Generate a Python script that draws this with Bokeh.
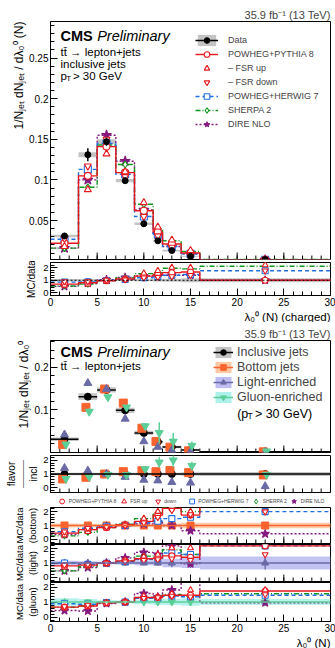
import numpy as np
from bokeh.plotting import figure
from bokeh.layouts import column
from bokeh.models import (Range1d, FixedTicker, NumeralTickFormatter, Legend, LegendItem,
                          Label, Span, Title)
from bokeh.embed import file_html
from bokeh.resources import INLINE

FONT = "Liberation Sans"

# ---------------- data ----------------
edges = [0, 3, 5, 7, 9, 11, 12, 14, 16, 30]
centers = [1.5, 4, 6, 8, 10, 11.5, 13, 15, 23]
xticks = [0, 5, 10, 15, 20, 25, 30]
xminor = list(range(31))

# upper plot: inclusive jets, charged multiplicity
data_incl = [0.031, 0.131, 0.147, 0.099, 0.046, 0.025, 0.013, 0.006, 0.002]
data_incl_err = [0.003, 0.008, 0.005, 0.004, 0.003, 0.002, 0.0015, 0.001, 0.0005]
data_incl_syst = [0.0015, 0.003, 0.003, 0.002, 0.0015, 0.001, 0.001, 0.0006, 0.0003]
pythia = [0.022, 0.105, 0.141, 0.109, 0.062, 0.036, 0.021, 0.010, 0.0015]
fsr_up = [0.018, 0.088, 0.132, 0.110, 0.072, 0.042, 0.026, 0.013, 0.002]
fsr_down = [0.028, 0.117, 0.150, 0.104, 0.055, 0.031, 0.017, 0.008, 0.0015]
herwig = [0.027, 0.113, 0.145, 0.107, 0.055, 0.033, 0.018, 0.009, 0.0015]
sherpa = [0.016, 0.091, 0.143, 0.119, 0.070, 0.040, 0.025, 0.012, 0.002]
dire = [0.016, 0.100, 0.155, 0.123, 0.063, 0.033, 0.018, 0.009, 0.0015]

# MC/data, inclusive
r_data_err = [0.10, 0.08, 0.06, 0.06, 0.08, 0.10, 0.12, 0.15, 0.15]
r_pythia = [0.70, 0.80, 0.96, 1.10, 1.33, 1.45, 1.60, 1.65, 1.00]
r_fsr_up = [0.60, 0.68, 0.92, 1.10, 1.55, 1.75, 2.00, 2.00, 2.20]
r_fsr_down = [0.90, 0.90, 1.02, 1.05, 1.20, 1.25, 1.30, 1.40, 1.75]
r_herwig = [0.85, 0.87, 0.98, 1.07, 1.20, 1.30, 1.40, 1.45, 1.75]
r_sherpa = [0.55, 0.70, 0.97, 1.20, 1.52, 1.60, 1.95, 1.90, 2.10]
r_dire = [0.52, 0.77, 1.05, 1.22, 1.35, 1.30, 1.40, 1.40, 1.00]

# lower plot: flavour-separated distributions
bottom = [0.019, 0.106, 0.149, 0.116, 0.057, 0.026, 0.0125, 0.004, 0.0015]
bottom_err = [0.002, 0.006, 0.004, 0.004, 0.003, 0.003, 0.002, 0.002, 0.001]
light = [0.042, 0.163, 0.149, 0.079, 0.026, 0.013, 0.005, 0.002, 0.0005]
light_err = [0.003, 0.006, 0.004, 0.005, 0.004, 0.004, 0.006, 0.003, 0.001]
gluon = [0.019, 0.096, 0.130, 0.106, 0.062, 0.046, 0.026, 0.016, 0.003]
gluon_err = [0.003, 0.008, 0.006, 0.005, 0.007, 0.025, 0.020, 0.010, 0.002]
incl_box = [0.004, 0.008, 0.006, 0.006, 0.005, 0.004, 0.003, 0.002, 0.001]

# flavour / inclusive
fr_incl_err = [0.10, 0.10, 0.10, 0.10, 0.10, 0.10, 0.10, 0.12, 0.15]
fr_bottom = [0.64, 0.76, 1.00, 1.17, 1.24, 1.17, 1.25, 1.10, 0.93]
fr_bottom_err = [0.05, 0.05, 0.04, 0.05, 0.08, 0.10, 0.10, 0.12, 0.10]
fr_light = [1.43, 1.24, 1.00, 0.78, 0.57, 0.52, 0.40, 0.36, 0.10]
fr_light_err = [0.08, 0.06, 0.04, 0.06, 0.08, 0.10, 0.10, 0.10, 0.08]
fr_gluon = [0.65, 0.80, 0.95, 0.93, 1.36, 1.85, 2.00, 1.60, 0.95]
fr_gluon_err = [0.06, 0.06, 0.05, 0.06, 0.12, 0.40, 0.50, 0.30, 0.10]

# MC/data for bottom jets
mb_err = [0.15, 0.12, 0.10, 0.10, 0.12, 0.15, 0.15, 0.20, 0.20]
mb_pythia = [0.45, 0.70, 0.85, 1.05, 1.30, 1.75, 2.25, 1.75, 2.60]
mb_fsr_up = [0.30, 0.55, 0.80, 1.05, 1.50, 2.00, 2.50, 2.00, 2.60]
mb_fsr_down = [0.55, 0.80, 0.90, 1.00, 1.20, 1.60, 2.10, 1.80, 2.00]
mb_herwig = [0.55, 0.80, 0.95, 1.00, 1.20, 1.30, 1.50, 1.60, 2.00]
mb_sherpa = [0.25, 0.50, 0.85, 1.10, 1.50, 1.90, 2.30, 2.00, 2.60]
mb_dire = [0.35, 0.70, 0.93, 1.00, 1.12, 1.24, 1.00, 0.62, 0.40]

# MC/data for light-enriched jets
ml_err = [0.15, 0.12, 0.08, 0.10, 0.15, 0.20, 0.30, 0.35, 0.45]
ml_pythia = [0.80, 0.85, 0.98, 1.15, 1.30, 1.35, 1.50, 1.40, 2.20]
ml_fsr_up = [0.70, 0.80, 0.95, 1.20, 1.45, 1.60, 2.05, 2.05, 2.60]
ml_fsr_down = [0.85, 0.90, 1.00, 1.10, 1.20, 1.25, 1.30, 1.20, 1.60]
ml_herwig = [1.00, 0.90, 0.98, 1.10, 1.25, 1.30, 1.70, 1.60, 2.20]
ml_sherpa = [0.45, 0.75, 0.98, 1.15, 1.48, 1.50, 1.93, 1.60, 2.60]
ml_dire = [0.45, 0.68, 1.00, 1.36, 1.75, 1.60, 2.20, 0.95, 2.60]

# MC/data for gluon-enriched jets
mg_err = [0.25, 0.20, 0.12, 0.10, 0.15, 0.20, 0.20, 0.25, 0.20]
mg_pythia = [0.66, 0.73, 0.95, 1.00, 1.30, 1.30, 1.45, 1.45, 1.73]
mg_fsr_up = [0.60, 0.70, 0.90, 1.00, 1.40, 1.35, 1.55, 1.80, 1.80]
mg_fsr_down = [0.70, 0.80, 0.95, 1.00, 1.25, 1.30, 1.40, 1.35, 1.50]
mg_herwig = [0.88, 0.85, 0.97, 1.00, 1.25, 1.25, 1.40, 1.35, 1.45]
mg_sherpa = [0.65, 0.75, 0.95, 1.02, 1.30, 1.30, 1.50, 1.40, 1.55]
mg_dire = [0.43, 0.40, 0.90, 1.00, 1.57, 1.34, 1.80, 2.60, 0.95]

# ---------------- styles ----------------
RED = "#e8171d"
BLUE = "#1f6fe0"
GREEN = "#12961e"
PURPLE = "#84197f"
GREY_BAND = "#c4c4c4"
ORANGE = "#f8632f"
ORANGE_BAND = "#fdc9a4"
SLATE = "#6a6aa6"
LAV_BAND = "#bdbdf2"
MINT = "#5ccf98"
TEAL_BAND = "#aef0ea"

STYLE = {
    "dire": (PURPLE, "2 2", "star", PURPLE, True),
    "sherpa": (GREEN, "5 2 1 2", "diamond", "white", True),
    "herwig": (BLUE, "4 3", "square", "white", True),
    "pythia": (RED, "solid", "circle", "white", True),
    "fsr_up": (RED, None, "triangle", "white", False),
    "fsr_down": (RED, None, "inverted_triangle", "white", False),
}
LABELS = {
    "pythia": "POWHEG+PYTHIA 8", "fsr_up": "FSR up", "fsr_down": "down",
    "herwig": "POWHEG+HERWIG 7", "sherpa": "SHERPA 2", "dire": "DIRE NLO",
}
ORDER = ["pythia", "fsr_up", "fsr_down", "herwig", "sherpa", "dire"]
lo = edges[:-1]
hi = edges[1:]


def panel(height, y0, y1, top, bottom, show_x=False, title=None):
    kw = {}
    if title:
        kw["title"] = title
    p = figure(width=335, height=height, x_range=Range1d(0, 30), y_range=Range1d(y0, y1),
               output_backend="svg", toolbar_location=None,
               min_border_left=50, min_border_right=5, min_border_top=top,
               min_border_bottom=bottom, **kw)
    p.grid.visible = False
    p.outline_line_color = "black"
    p.outline_line_alpha = 1
    p.outline_line_width = 1
    p.background_fill_color = "white"
    p.border_fill_color = "white"
    p.xaxis.ticker = FixedTicker(ticks=xticks, minor_ticks=xminor)
    for ax in p.axis:
        ax.major_tick_in = 7
        ax.major_tick_out = 0
        ax.minor_tick_in = 4
        ax.minor_tick_out = 0
        ax.axis_line_color = "black"
        ax.major_tick_line_color = "black"
        ax.minor_tick_line_color = "black"
        ax.major_label_text_font = FONT
        ax.major_label_text_color = "black"
        ax.major_label_text_font_size = "10px"
        ax.major_label_standoff = 2
        ax.axis_label_text_font = FONT
        ax.axis_label_text_font_style = "normal"
        ax.axis_label_text_color = "black"
        ax.axis_label_standoff = 3
    if not show_x:
        # no tick labels on this x axis: draw the ticks only
        p.xaxis.visible = False
        p.ray(x=xticks, y=[y0] * len(xticks), length=7, length_units="screen",
              angle=np.pi / 2, line_color="black", line_width=1)
        p.ray(x=xminor, y=[y0] * len(xminor), length=4, length_units="screen",
              angle=np.pi / 2, line_color="black", line_width=1)
    if title:
        p.title.align = "right"
        p.title.text_font = FONT
        p.title.text_font_size = "11px"
        p.title.text_font_style = "normal"
        p.title.standoff = 1
    return p


def side_title(p, text, side, size="12px", standoff=2, align="right"):
    p.add_layout(Title(text=text, align=align, text_font=FONT, text_font_size=size,
                       text_font_style="normal", text_color="black", standoff=standoff),
                 side)


def ratio_ticks(p):
    p.yaxis.ticker = FixedTicker(ticks=[0, 1, 2],
                                 minor_ticks=[round(v, 1) for v in np.arange(-0.4, 2.5, 0.2)])
    p.yaxis.major_label_text_font_size = "9.5px"


def draw_mc(p, vals, msize=6):
    rs = {}
    for key in ["dire", "sherpa", "herwig", "pythia", "fsr_up", "fsr_down"]:
        color, dash, marker, fill, has_line = STYLE[key]
        ln = None
        if has_line:
            ln = p.step(x=edges, y=list(vals[key]) + [vals[key][-1]], mode="after",
                        line_color=color, line_dash=dash, line_width=1.4)
        sz = msize * 1.5 if marker == "star" else msize
        sc = p.scatter(x=centers, y=vals[key], marker=marker, size=sz,
                       line_color=color, fill_color=fill, line_width=1.1)
        rs[key] = (ln, sc)
    return rs


def label(p, x, y, text, size, style="normal"):
    p.add_layout(Label(x=x, y=y, text=text, text_font=FONT, text_font_size=size,
                       text_font_style=style, text_baseline="middle", text_align="left",
                       text_color="black"))


# ---------------- top strip ----------------
band = figure(width=335, height=6, toolbar_location=None, output_backend="svg",
              min_border=0, x_range=Range1d(0, 1), y_range=Range1d(0, 1))
band.axis.visible = False
band.grid.visible = False
band.outline_line_color = None
band.background_fill_color = "#dcdcf2"
band.border_fill_color = "#dcdcf2"

# ---------------- panel 1: inclusive distribution ----------------
p1 = panel(255, 0.002, 0.295, 14, 2, title="35.9 fb⁻¹ (13 TeV)")
p1.yaxis.ticker = FixedTicker(ticks=[0.05, 0.1, 0.15, 0.2, 0.25],
                              minor_ticks=[round(0.01 * i, 2) for i in range(1, 30)])
p1.yaxis.formatter = NumeralTickFormatter(format="0.[00]")
side_title(p1, "1/Nⱼₑₜ dNⱼₑₜ / dλ₀⁰ (N)", "left")

d_lo = [v - e for v, e in zip(data_incl, data_incl_err)]
d_hi = [v + e for v, e in zip(data_incl, data_incl_err)]
q1 = p1.quad(left=lo, right=hi, bottom=[v - s for v, s in zip(data_incl, data_incl_syst)],
             top=[v + s for v, s in zip(data_incl, data_incl_syst)],
             fill_color=GREY_BAND, line_color=None)
top_vals = {"pythia": pythia, "fsr_up": fsr_up, "fsr_down": fsr_down,
            "herwig": herwig, "sherpa": sherpa, "dire": dire}
rs1 = draw_mc(p1, top_vals, msize=7)
e1 = p1.segment(x0=centers, y0=d_lo, x1=centers, y1=d_hi, line_color="black", line_width=1.5)
d1 = p1.scatter(x=centers, y=data_incl, marker="circle", size=6, fill_color="black",
                line_color="black")

leg1 = Legend(items=[
    LegendItem(label="Data", renderers=[q1, e1, d1]),
    LegendItem(label="POWHEG+PYTHIA 8", renderers=list(rs1["pythia"])),
    LegendItem(label="– FSR up", renderers=[rs1["fsr_up"][1]]),
    LegendItem(label="– FSR down", renderers=[rs1["fsr_down"][1]]),
    LegendItem(label="POWHEG+HERWIG 7", renderers=list(rs1["herwig"])),
    LegendItem(label="SHERPA 2", renderers=list(rs1["sherpa"])),
    LegendItem(label="DIRE NLO", renderers=list(rs1["dire"])),
], location=(145, 128), label_text_font=FONT, label_text_font_size="9px",
    glyph_width=23, glyph_height=14, label_height=14, spacing=0, padding=0, margin=0,
    label_standoff=10, border_line_alpha=0, background_fill_alpha=0)
p1.add_layout(leg1)

label(p1, 1.07, 0.2774, "CMS", "14.5px", "bold")
label(p1, 5.0, 0.2774, "Preliminary", "14.5px", "italic")
label(p1, 1.07, 0.2572, "tt̄ → lepton+jets", "11.5px")
label(p1, 1.07, 0.2424, "inclusive jets", "11.5px")
label(p1, 1.07, 0.2279, "p", "11.5px")
label(p1, 1.68, 0.2248, "T", "8px")
label(p1, 2.40, 0.2279, "> 30 GeV", "11.5px")

# ---------------- panel 2: MC/data inclusive ----------------
p2 = panel(61, -0.2, 2.4, 1, 24, show_x=True)
ratio_ticks(p2)
p2.yaxis.axis_label = "MC/data"
p2.yaxis.axis_label_text_font_size = "10px"
side_title(p2, "λ₀⁰ (N) (charged)", "below", size="11.5px", standoff=0)
p2.quad(left=lo, right=hi, bottom=[1 - e for e in r_data_err], top=[1 + e for e in r_data_err],
        fill_color=GREY_BAND, line_color=None)
p2.add_layout(Span(location=1, dimension="width", line_color="black", line_dash="2 2",
                   line_width=1))
draw_mc(p2, {"pythia": r_pythia, "fsr_up": r_fsr_up, "fsr_down": r_fsr_down,
             "herwig": r_herwig, "sherpa": r_sherpa, "dire": r_dire}, msize=6)

# ---------------- panel 3: flavour distributions ----------------
p3 = panel(131, 0, 0.263, 18, 1, title="35.9 fb⁻¹ (13 TeV)")
p3.yaxis.ticker = FixedTicker(ticks=[0.1, 0.2],
                              minor_ticks=[round(0.02 * i, 2) for i in range(0, 14)])
p3.yaxis.formatter = NumeralTickFormatter(format="0.[0]")
side_title(p3, "1/Nⱼₑₜ dNⱼₑₜ / dλ₀⁰", "left")

i_lo = [v - e for v, e in zip(data_incl, incl_box)]
i_hi = [v + e for v, e in zip(data_incl, incl_box)]
q3 = p3.quad(left=lo, right=hi, bottom=i_lo, top=i_hi, fill_color=GREY_BAND, line_color=None)
h3 = p3.segment(x0=lo, y0=data_incl, x1=hi, y1=data_incl, line_color="black", line_width=1.5)
p3.segment(x0=centers, y0=i_lo, x1=centers, y1=i_hi, line_color="black", line_width=1.5)
s3 = p3.scatter(x=centers, y=data_incl, marker="circle", size=7, fill_color="black",
                line_color="black")

flav_rs = {}
for name, vals, errs, col, band_col, marker, dx in [
        ("Bottom jets", bottom, bottom_err, ORANGE, ORANGE_BAND, "square", -0.2),
        ("Light-enriched", light, light_err, SLATE, LAV_BAND, "triangle", 0.0),
        ("Gluon-enriched", gluon, gluon_err, MINT, TEAL_BAND, "inverted_triangle", 0.15)]:
    xs = [c + dx for c in centers]
    # zero-height boxes: they only give the legend its coloured band swatch
    box = p3.quad(left=lo, right=hi, bottom=vals, top=vals, fill_color=band_col,
                  line_color=None)
    seg = p3.segment(x0=xs, y0=[v - e for v, e in zip(vals, errs)], x1=xs,
                     y1=[v + e for v, e in zip(vals, errs)], line_color=col, line_width=1.5)
    sc = p3.scatter(x=xs, y=vals, marker=marker, size=8, fill_color=col, line_color=col)
    flav_rs[name] = [box, seg, sc]

leg3 = Legend(items=[
    LegendItem(label="Inclusive jets", renderers=[q3, h3, s3]),
    LegendItem(label="Bottom jets", renderers=flav_rs["Bottom jets"]),
    LegendItem(label="Light-enriched", renderers=flav_rs["Light-enriched"]),
    LegendItem(label="Gluon-enriched", renderers=flav_rs["Gluon-enriched"]),
], location=(163, 48), label_text_font=FONT, label_text_font_size="12.5px",
    glyph_width=20, glyph_height=14, label_height=14, spacing=1, padding=0, margin=0,
    label_standoff=4, border_line_alpha=0, background_fill_alpha=0)
p3.add_layout(leg3)
label(p3, 1.07, 0.2355, "CMS", "14.5px", "bold")
label(p3, 5.0, 0.2355, "Preliminary", "14.5px", "italic")
label(p3, 1.07, 0.2026, "tt̄ → lepton+jets", "11.5px")
label(p3, 20.0, 0.0909, "(p", "12.5px")
label(p3, 21.1, 0.0850, "T", "8.5px")
label(p3, 21.9, 0.0909, "> 30 GeV)", "12.5px")

# ---------------- panel 4: flavour / inclusive ----------------
p4 = panel(41, -0.35, 2.35, 2, 2)
ratio_ticks(p4)
# fraction-style axis title: "incl" next to the axis, a bar, then "flavor"
p4.yaxis.axis_label = "incl"
p4.yaxis.axis_label_text_font_size = "10px"
p4.yaxis.axis_label_standoff = 1
side_title(p4, "————", "left", size="7px", standoff=0, align="center")
side_title(p4, "flavor", "left", size="10px", standoff=0, align="center")
p4.quad(left=lo, right=hi, bottom=[1 - e for e in fr_incl_err], top=[1 + e for e in fr_incl_err],
        fill_color=GREY_BAND, line_color=None)
p4.add_layout(Span(location=1, dimension="width", line_color="black", line_width=1.5))
ones = list(np.ones(len(centers)))
p4.scatter(x=centers, y=ones, marker="circle", size=7, fill_color="black", line_color="black")
for vals, errs, col, marker, dx in [
        (fr_bottom, fr_bottom_err, ORANGE, "square", -0.2),
        (fr_light, fr_light_err, SLATE, "triangle", 0.0),
        (fr_gluon, fr_gluon_err, MINT, "inverted_triangle", 0.15)]:
    xs = [c + dx for c in centers]
    p4.segment(x0=xs, y0=[v - e for v, e in zip(vals, errs)], x1=xs,
               y1=[v + e for v, e in zip(vals, errs)], line_color=col, line_width=1.3)
    p4.scatter(x=xs, y=vals, marker=marker, size=8, fill_color=col, line_color=col)

# ---------------- legend strip for the MC/data panels ----------------
legfig = figure(width=335, height=13, toolbar_location=None, output_backend="svg",
                x_range=Range1d(0, 30), y_range=Range1d(10, 11),
                min_border_left=48, min_border_right=3, min_border_top=0, min_border_bottom=0)
legfig.axis.visible = False
legfig.grid.visible = False
legfig.outline_line_color = None
mb_vals = {"pythia": mb_pythia, "fsr_up": mb_fsr_up, "fsr_down": mb_fsr_down,
           "herwig": mb_herwig, "sherpa": mb_sherpa, "dire": mb_dire}
leg_items = []
for key in ORDER:
    color, dash, marker, fill, has_line = STYLE[key]
    # markers of the bottom-jet ratios; they lie outside this strip's range, only the
    # legend swatches are visible here
    r = legfig.scatter(x=centers, y=mb_vals[key], marker=marker, size=6, line_color=color,
                       fill_color=fill, line_width=1)
    leg_items.append(LegendItem(label=LABELS[key], renderers=[r]))
leg_strip = Legend(items=leg_items, orientation="horizontal", location="center",
                   label_text_font=FONT, label_text_font_size="5px", glyph_width=12,
                   glyph_height=13, label_height=13, label_standoff=1, spacing=1, padding=0,
                   margin=0, border_line_alpha=0, background_fill_alpha=0)
legfig.add_layout(leg_strip)


# ---------------- panels 5-7: MC/data per flavour ----------------
def flavour_ratio(height, top, bottom_b, ylabel, errs, col, band_col, marker, vals,
                  show_x=False):
    p = panel(height, -0.3, 2.3, top, bottom_b, show_x=show_x)
    ratio_ticks(p)
    p.yaxis.axis_label = ylabel
    p.yaxis.axis_label_text_font_size = "9.5px"
    p.yaxis.axis_label_standoff = 2
    p.quad(left=lo, right=hi, bottom=[1 - e for e in errs], top=[1 + e for e in errs],
           fill_color=band_col, line_color=None, fill_alpha=0.9)
    p.add_layout(Span(location=1, dimension="width", line_color=col, line_width=1.5))
    p.segment(x0=centers, y0=[1 - e for e in errs], x1=centers, y1=[1 + e for e in errs],
              line_color=col, line_width=1.3)
    p.scatter(x=centers, y=list(np.ones(len(centers))), marker=marker, size=7,
              fill_color=col, line_color=col)
    draw_mc(p, vals, msize=6)
    return p


p5 = flavour_ratio(37, 0, 1, "MC/data\n(bottom)", mb_err, ORANGE, ORANGE_BAND, "square",
                   mb_vals)
p6 = flavour_ratio(38, 0, 1, "MC/data\n(light)", ml_err, SLATE, LAV_BAND, "triangle",
                   {"pythia": ml_pythia, "fsr_up": ml_fsr_up, "fsr_down": ml_fsr_down,
                    "herwig": ml_herwig, "sherpa": ml_sherpa, "dire": ml_dire})
p7 = flavour_ratio(66, 0, 25, "MC/data\n(gluon)", mg_err, MINT, TEAL_BAND,
                   "inverted_triangle",
                   {"pythia": mg_pythia, "fsr_up": mg_fsr_up, "fsr_down": mg_fsr_down,
                    "herwig": mg_herwig, "sherpa": mg_sherpa, "dire": mg_dire},
                   show_x=True)
side_title(p7, "λ₀⁰ (N)", "below", size="11.5px", standoff=0)

layout = column(band, p1, p2, p3, p4, legfig, p5, p6, p7, spacing=0)
open("out.html", "w").write(file_html(layout, INLINE))
